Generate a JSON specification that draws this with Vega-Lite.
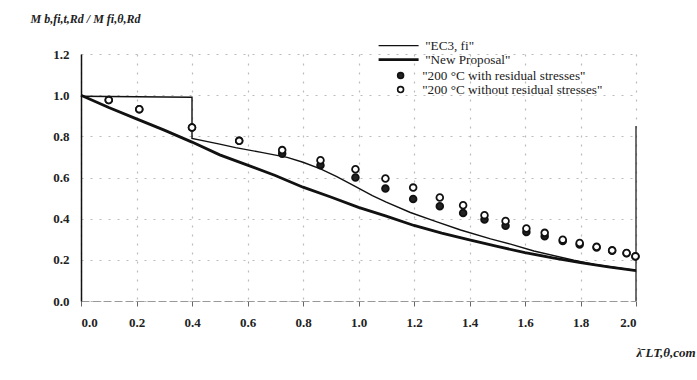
{
  "$schema": "https://vega.github.io/schema/vega-lite/v6.json",
  "width": 555,
  "height": 247,
  "autosize": "none",
  "padding": {"left": 81, "top": 54, "right": 61, "bottom": 79},
  "background": "white",
  "config": {
    "view": {"stroke": null},
    "font": "Liberation Serif",
    "axis": {
      "labelFont": "Liberation Serif",
      "labelFontWeight": "bold",
      "labelFontSize": 13,
      "labelColor": "#222",
      "titleFont": "Liberation Serif",
      "titleColor": "#222",
      "gridColor": "#bbbbbb",
      "gridDash": [2, 7],
      "gridWidth": 1.2
    },
    "legend": {
      "labelFont": "Liberation Serif",
      "labelFontSize": 13.2,
      "labelColor": "#222",
      "labelLimit": 400,
      "title": null
    }
  },
  "datasets": {
    "curves": [
      {"series": "\"EC3, fi\"", "i": 0, "lam": 0.0, "val": 0.995},
      {"series": "\"EC3, fi\"", "i": 1, "lam": 0.4, "val": 0.99},
      {"series": "\"EC3, fi\"", "i": 2, "lam": 0.4, "val": 0.79},
      {"series": "\"EC3, fi\"", "i": 3, "lam": 0.5, "val": 0.762},
      {"series": "\"EC3, fi\"", "i": 4, "lam": 0.557, "val": 0.745},
      {"series": "\"EC3, fi\"", "i": 5, "lam": 0.65, "val": 0.722},
      {"series": "\"EC3, fi\"", "i": 6, "lam": 0.743, "val": 0.698},
      {"series": "\"EC3, fi\"", "i": 7, "lam": 0.8, "val": 0.674},
      {"series": "\"EC3, fi\"", "i": 8, "lam": 0.863, "val": 0.642},
      {"series": "\"EC3, fi\"", "i": 9, "lam": 0.92, "val": 0.605},
      {"series": "\"EC3, fi\"", "i": 10, "lam": 0.983, "val": 0.56},
      {"series": "\"EC3, fi\"", "i": 11, "lam": 1.05, "val": 0.512},
      {"series": "\"EC3, fi\"", "i": 12, "lam": 1.1, "val": 0.48},
      {"series": "\"EC3, fi\"", "i": 13, "lam": 1.187, "val": 0.43},
      {"series": "\"EC3, fi\"", "i": 14, "lam": 1.28, "val": 0.386},
      {"series": "\"EC3, fi\"", "i": 15, "lam": 1.368, "val": 0.345},
      {"series": "\"EC3, fi\"", "i": 16, "lam": 1.476, "val": 0.302},
      {"series": "\"EC3, fi\"", "i": 17, "lam": 1.548, "val": 0.276},
      {"series": "\"EC3, fi\"", "i": 18, "lam": 1.632, "val": 0.243},
      {"series": "\"EC3, fi\"", "i": 19, "lam": 1.776, "val": 0.198},
      {"series": "\"EC3, fi\"", "i": 20, "lam": 1.85, "val": 0.178},
      {"series": "\"EC3, fi\"", "i": 21, "lam": 2.0, "val": 0.149},
      {"series": "\"New Proposal\"", "i": 0, "lam": 0.0, "val": 1.0},
      {"series": "\"New Proposal\"", "i": 1, "lam": 0.1, "val": 0.94},
      {"series": "\"New Proposal\"", "i": 2, "lam": 0.2, "val": 0.885},
      {"series": "\"New Proposal\"", "i": 3, "lam": 0.3, "val": 0.83},
      {"series": "\"New Proposal\"", "i": 4, "lam": 0.4, "val": 0.772},
      {"series": "\"New Proposal\"", "i": 5, "lam": 0.5, "val": 0.71},
      {"series": "\"New Proposal\"", "i": 6, "lam": 0.6, "val": 0.66},
      {"series": "\"New Proposal\"", "i": 7, "lam": 0.7, "val": 0.61},
      {"series": "\"New Proposal\"", "i": 8, "lam": 0.8, "val": 0.553},
      {"series": "\"New Proposal\"", "i": 9, "lam": 0.9, "val": 0.505},
      {"series": "\"New Proposal\"", "i": 10, "lam": 1.0, "val": 0.455},
      {"series": "\"New Proposal\"", "i": 11, "lam": 1.1, "val": 0.412},
      {"series": "\"New Proposal\"", "i": 12, "lam": 1.2, "val": 0.367},
      {"series": "\"New Proposal\"", "i": 13, "lam": 1.3, "val": 0.33},
      {"series": "\"New Proposal\"", "i": 14, "lam": 1.4, "val": 0.297},
      {"series": "\"New Proposal\"", "i": 15, "lam": 1.5, "val": 0.265},
      {"series": "\"New Proposal\"", "i": 16, "lam": 1.6, "val": 0.235},
      {"series": "\"New Proposal\"", "i": 17, "lam": 1.7, "val": 0.21},
      {"series": "\"New Proposal\"", "i": 18, "lam": 1.8, "val": 0.186},
      {"series": "\"New Proposal\"", "i": 19, "lam": 1.9, "val": 0.166},
      {"series": "\"New Proposal\"", "i": 20, "lam": 2.0, "val": 0.148}
    ],
    "points": [
      {"series": "\"200 °C with residual stresses\"", "lam": 0.1, "val": 0.976},
      {"series": "\"200 °C with residual stresses\"", "lam": 0.21, "val": 0.932},
      {"series": "\"200 °C with residual stresses\"", "lam": 0.4, "val": 0.843},
      {"series": "\"200 °C with residual stresses\"", "lam": 0.57, "val": 0.778},
      {"series": "\"200 °C with residual stresses\"", "lam": 0.725, "val": 0.716},
      {"series": "\"200 °C with residual stresses\"", "lam": 0.863, "val": 0.66},
      {"series": "\"200 °C with residual stresses\"", "lam": 0.989, "val": 0.6},
      {"series": "\"200 °C with residual stresses\"", "lam": 1.097, "val": 0.546},
      {"series": "\"200 °C with residual stresses\"", "lam": 1.197, "val": 0.496},
      {"series": "\"200 °C with residual stresses\"", "lam": 1.293, "val": 0.46},
      {"series": "\"200 °C with residual stresses\"", "lam": 1.377, "val": 0.428},
      {"series": "\"200 °C with residual stresses\"", "lam": 1.454, "val": 0.396},
      {"series": "\"200 °C with residual stresses\"", "lam": 1.53, "val": 0.366},
      {"series": "\"200 °C with residual stresses\"", "lam": 1.605, "val": 0.335},
      {"series": "\"200 °C with residual stresses\"", "lam": 1.671, "val": 0.315},
      {"series": "\"200 °C with residual stresses\"", "lam": 1.736, "val": 0.292},
      {"series": "\"200 °C with residual stresses\"", "lam": 1.797, "val": 0.275},
      {"series": "\"200 °C with residual stresses\"", "lam": 1.858, "val": 0.26},
      {"series": "\"200 °C with residual stresses\"", "lam": 1.914, "val": 0.244},
      {"series": "\"200 °C with residual stresses\"", "lam": 1.966, "val": 0.232},
      {"series": "\"200 °C with residual stresses\"", "lam": 1.998, "val": 0.216},
      {"series": "\"200 °C without residual stresses\"", "lam": 0.1, "val": 0.976},
      {"series": "\"200 °C without residual stresses\"", "lam": 0.21, "val": 0.932},
      {"series": "\"200 °C without residual stresses\"", "lam": 0.4, "val": 0.843},
      {"series": "\"200 °C without residual stresses\"", "lam": 0.57, "val": 0.778},
      {"series": "\"200 °C without residual stresses\"", "lam": 0.725, "val": 0.733},
      {"series": "\"200 °C without residual stresses\"", "lam": 0.863, "val": 0.684},
      {"series": "\"200 °C without residual stresses\"", "lam": 0.989, "val": 0.64},
      {"series": "\"200 °C without residual stresses\"", "lam": 1.097, "val": 0.595},
      {"series": "\"200 °C without residual stresses\"", "lam": 1.197, "val": 0.551},
      {"series": "\"200 °C without residual stresses\"", "lam": 1.293, "val": 0.503},
      {"series": "\"200 °C without residual stresses\"", "lam": 1.377, "val": 0.465},
      {"series": "\"200 °C without residual stresses\"", "lam": 1.454, "val": 0.417},
      {"series": "\"200 °C without residual stresses\"", "lam": 1.53, "val": 0.389},
      {"series": "\"200 °C without residual stresses\"", "lam": 1.605, "val": 0.352},
      {"series": "\"200 °C without residual stresses\"", "lam": 1.671, "val": 0.331},
      {"series": "\"200 °C without residual stresses\"", "lam": 1.736, "val": 0.298},
      {"series": "\"200 °C without residual stresses\"", "lam": 1.797, "val": 0.282},
      {"series": "\"200 °C without residual stresses\"", "lam": 1.858, "val": 0.263},
      {"series": "\"200 °C without residual stresses\"", "lam": 1.914, "val": 0.246},
      {"series": "\"200 °C without residual stresses\"", "lam": 1.966, "val": 0.233},
      {"series": "\"200 °C without residual stresses\"", "lam": 1.998, "val": 0.217}
    ],
    "frame": [
      {"lam": 2.0, "lo": 0.0, "hi": 0.85}
    ]
  },
  "layer": [
    {
      "data": {"name": "frame"},
      "mark": {"type": "rule", "color": "#222", "strokeWidth": 1.3},
      "encoding": {
        "x": {"field": "lam", "type": "quantitative", "scale": {"domain": [0, 2]}},
        "y": {"field": "lo", "type": "quantitative"},
        "y2": {"field": "hi"}
      }
    },
    {
      "data": {"name": "curves"},
      "mark": {"type": "line", "color": "#111", "strokeJoin": "miter"},
      "encoding": {
        "x": {
          "field": "lam", "type": "quantitative",
          "scale": {"domain": [0, 2], "nice": false, "zero": false},
          "axis": {
            "values": [0, 0.2, 0.4, 0.6, 0.8, 1.0, 1.2, 1.4, 1.6, 1.8, 2.0],
            "format": ".1f",
            "title": "λ̄ LT,θ,com",
            "titleFontSize": 13,
            "titleFontWeight": "bold",
            "titleFontStyle": "italic",
            "titleX": 555,
            "titleY": 51,
            "titleAlign": "left",
            "titleBaseline": "middle",
            "labelPadding": 10,
            "tickSize": 5,
            "tickColor": "#666",
            "domainColor": "#999",
            "domainDash": [8, 3],
            "domainWidth": 1.2,
            "grid": true
          }
        },
        "y": {
          "field": "val", "type": "quantitative",
          "scale": {"domain": [0, 1.2], "nice": false},
          "axis": {
            "values": [0, 0.2, 0.4, 0.6, 0.8, 1.0, 1.2],
            "format": ".1f",
            "title": "M b,fi,t,Rd / M fi,θ,Rd",
            "titleFontSize": 12,
            "titleFontWeight": "bold",
            "titleFontStyle": "italic",
            "titleAngle": 0,
            "titleX": -51,
            "titleY": -36,
            "titleAlign": "left",
            "titleBaseline": "middle",
            "labelPadding": 12,
            "ticks": false,
            "domainColor": "#111",
            "domainWidth": 1.5,
            "grid": true
          }
        },
        "order": {"field": "i", "type": "quantitative"},
        "detail": {"field": "series"},
        "strokeWidth": {
          "field": "series", "type": "nominal",
          "scale": {"domain": ["\"EC3, fi\"", "\"New Proposal\""], "range": [1.4, 2.8]},
          "legend": {
            "orient": "none",
            "legendX": 311,
            "legendY": -15,
            "symbolType": "M-5,0H5",
            "symbolSize": 64,
            "symbolStrokeColor": "#111",
            "labelOffset": 20,
            "rowPadding": 0
          }
        }
      }
    },
    {
      "data": {"name": "points"},
      "mark": {"type": "point", "shape": "circle", "size": 45, "stroke": "#111", "strokeWidth": 1.8, "opacity": 1},
      "encoding": {
        "x": {"field": "lam", "type": "quantitative"},
        "y": {"field": "val", "type": "quantitative"},
        "fill": {
          "field": "series", "type": "nominal",
          "scale": {"domain": ["\"200 °C with residual stresses\"", "\"200 °C without residual stresses\""], "range": ["#222", "white"]},
          "legend": {
            "orient": "none",
            "legendX": 313,
            "legendY": 15,
            "symbolType": "circle",
            "symbolSize": 35,
            "symbolStrokeColor": "#111",
            "symbolStrokeWidth": 1.6,
            "labelOffset": 15,
            "rowPadding": 0
          }
        }
      }
    }
  ]
}
